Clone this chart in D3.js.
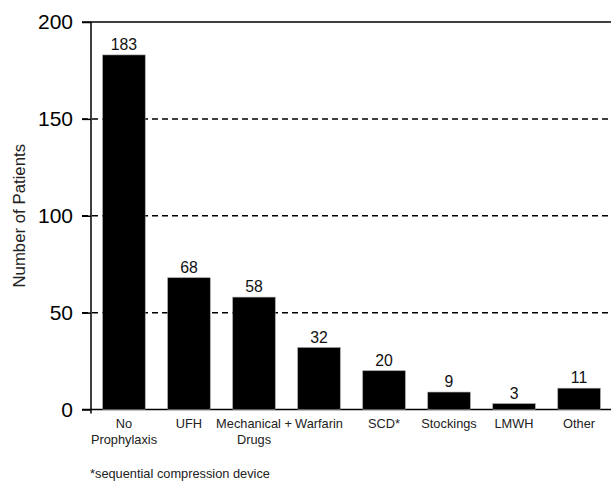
<!DOCTYPE html>
<html>
<head>
<meta charset="utf-8">
<script src="https://cdn.jsdelivr.net/npm/d3@7"></script>
<style>
  body { margin: 0; background: #fff; }
  svg { display: block; font-family: "Liberation Sans", Arial, Helvetica, sans-serif; }
</style>
</head>
<body>
<div id="chart"></div>
<script>
// categories (each entry = lines of the tick label) and counts
var categories = ["No Prophylaxis", "UFH", "Mechanical + Drugs", "Warfarin", "SCD*", "Stockings", "LMWH", "Other"];
var labelLines = [["No", "Prophylaxis"], ["UFH"], ["Mechanical +", "Drugs"], ["Warfarin"], ["SCD*"], ["Stockings"], ["LMWH"], ["Other"]];
var patients = [183, 68, 58, 32, 20, 9, 3, 11];
var yTicks = [0, 50, 100, 150, 200];
var gridTicks = [50, 100, 150];

var width = 611, height = 481;
var margin = { top: 22, right: 0, bottom: 71.5, left: 91 };

var svg = d3.select("#chart")
    .append("svg")
    .attr("width", width)
    .attr("height", height);

var x = d3.scaleBand()
    .domain(categories)
    .range([margin.left, width + 1])
    .paddingInner(0.346)
    .paddingOuter(0.18);

var y = d3.scaleLinear()
    .domain([0, 200])
    .range([height - margin.bottom, margin.top]);

// dashed grid lines
svg.append("g")
    .selectAll("line")
    .data(gridTicks)
    .enter()
    .append("line")
    .attr("x1", margin.left - 9)
    .attr("x2", width)
    .attr("y1", function (d) { return y(d); })
    .attr("y2", function (d) { return y(d); })
    .attr("stroke", "#000")
    .attr("stroke-width", 1.5)
    .attr("stroke-dasharray", "6,4");

// solid top and bottom lines
svg.append("g")
    .selectAll("line")
    .data([0, 200])
    .enter()
    .append("line")
    .attr("x1", margin.left - 9)
    .attr("x2", width)
    .attr("y1", function (d) { return y(d); })
    .attr("y2", function (d) { return y(d); })
    .attr("stroke", "#000")
    .attr("stroke-width", 1.5);

// bars
svg.append("g")
    .selectAll("rect")
    .data(patients)
    .enter()
    .append("rect")
    .attr("x", function (d, i) { return x(categories[i]); })
    .attr("y", function (d) { return y(d); })
    .attr("width", x.bandwidth())
    .attr("height", function (d) { return y(0) - y(d); })
    .attr("fill", "#000")
    .attr("stroke", "#999")
    .attr("stroke-width", 0.6);

// value labels
svg.append("g")
    .selectAll("text")
    .data(patients)
    .enter()
    .append("text")
    .attr("x", function (d, i) { return x(categories[i]) + x.bandwidth() / 2; })
    .attr("y", function (d) { return y(d) - 5; })
    .attr("text-anchor", "middle")
    .attr("font-size", 15.8)
    .attr("fill", "#111")
    .text(function (d) { return d; });

// y axis
var yAxis = d3.axisLeft(y)
    .tickValues(yTicks)
    .tickSize(9)
    .tickPadding(9)
    .tickFormat(d3.format("d"));

var gy = svg.append("g")
    .attr("transform", "translate(" + margin.left + ",0)")
    .call(yAxis);
gy.select(".domain").remove();
gy.selectAll(".tick line").attr("stroke", "#000").attr("stroke-width", 1.5);
gy.selectAll(".tick text").attr("font-size", 21).attr("fill", "#000").attr("font-family", null);

gy.append("line")
    .attr("x1", 0).attr("x2", 0)
    .attr("y1", y(200))
    .attr("y2", y(0) + 4)
    .attr("stroke", "#000")
    .attr("stroke-width", 1.5);

// category labels
var cat = svg.append("g")
    .selectAll("text")
    .data(categories)
    .enter()
    .append("text")
    .attr("text-anchor", "middle")
    .attr("font-size", 12.8)
    .attr("fill", "#222")
    .attr("transform", function (d) { return "translate(" + (x(d) + x.bandwidth() / 2) + "," + (y(0) + 18.5) + ")"; });

cat.selectAll("tspan")
    .data(function (d, i) { return labelLines[i]; })
    .enter()
    .append("tspan")
    .attr("x", 0)
    .attr("dy", function (d, j) { return j === 0 ? 0 : 15.5; })
    .text(function (d) { return d; });

// y axis title
svg.append("text")
    .attr("transform", "translate(25," + ((y(0) + y(200)) / 2) + ") rotate(-90)")
    .attr("text-anchor", "middle")
    .attr("font-size", 16.8)
    .attr("fill", "#222")
    .text("Number of Patients");

// footnote
svg.append("text")
    .attr("x", 90)
    .attr("y", 477.5)
    .attr("font-size", 12.8)
    .attr("fill", "#222")
    .text("*sequential compression device");
</script>
</body>
</html>
